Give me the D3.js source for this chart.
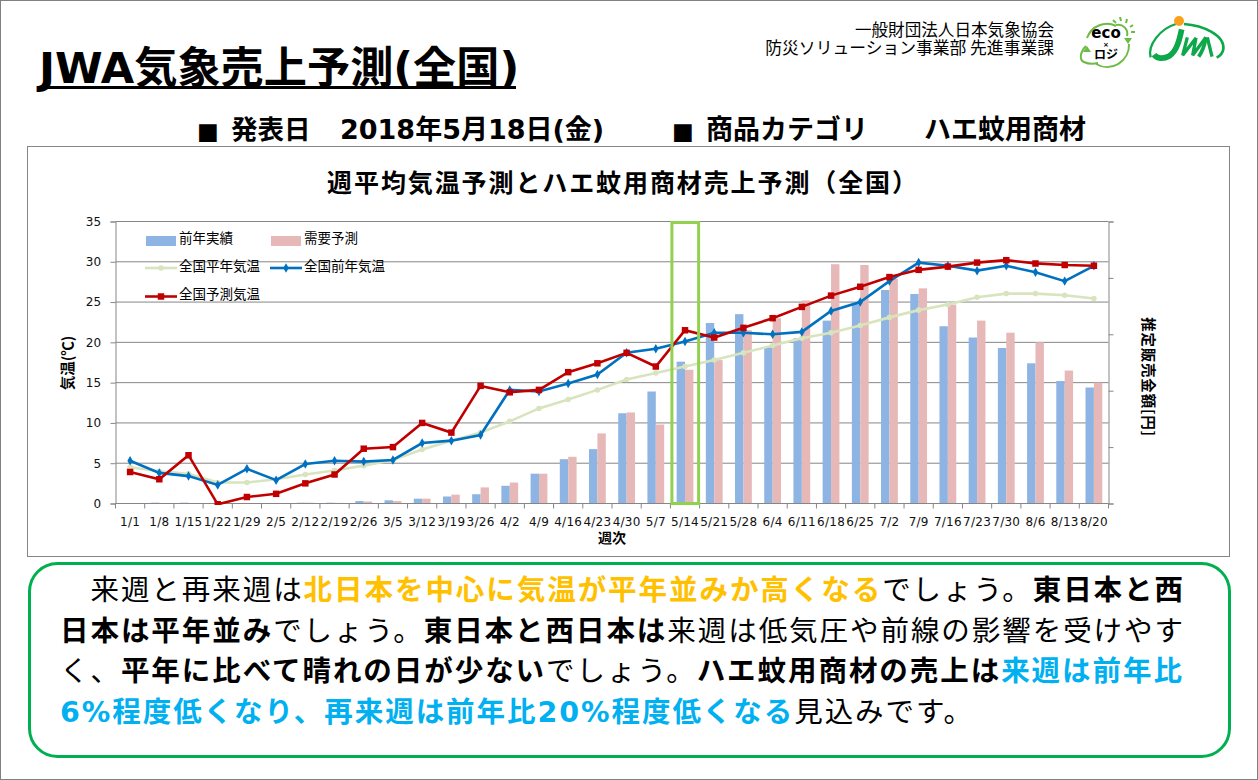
<!DOCTYPE html>
<html lang="ja">
<head>
<meta charset="utf-8">
<script src="https://cdn.jsdelivr.net/npm/d3@7"></script>
<style>
  html, body { margin: 0; padding: 0; background: #fff; overflow: hidden; }
  text { font-family: "DejaVu Sans", "Noto Sans CJK JP", sans-serif; fill: #000; }
  .cjk { font-family: "Noto Sans CJK JP", sans-serif; }
  .tick-label { font-size: 12px; letter-spacing: 0.25px; fill: #111; }
</style>
</head>
<body>
<svg id="slide" width="1258" height="780"></svg>
<script>
const weeks = ["1/1","1/8","1/15","1/22","1/29","2/5","2/12","2/19","2/26","3/5","3/12","3/19","3/26","4/2","4/9","4/16","4/23","4/30","5/7","5/14","5/21","5/28","6/4","6/11","6/18","6/25","7/2","7/9","7/16","7/23","7/30","8/6","8/13","8/20"];
const lastYearSales = [0.05,0.1,0.1,0.05,0.05,0.05,0.1,0.1,0.3,0.4,0.6,0.87,1.15,2.2,3.7,5.5,6.75,11.2,13.9,17.6,22.4,23.5,19.4,20.5,22.7,24.8,26.5,26,22,20.6,19.3,17.4,15.2,14.4];
const forecastSales = [0.03,0.05,0.05,0.03,0.03,0.03,0.1,0.08,0.25,0.3,0.6,1.1,2,2.6,3.7,5.8,8.7,11.3,9.8,16.6,17.8,21.5,23,25.2,29.7,29.6,27.9,26.7,24.7,22.7,21.2,20,16.5,15];
const normalTemp = [4.5,4,3.7,2.6,2.6,3,3.6,4.1,4.7,5.4,6.7,7.8,8.8,10.2,11.8,12.9,14.1,15.4,16.2,17,17.8,18.7,19.6,20.5,21.2,22.1,23.1,24,24.7,25.6,26.05,26.05,25.85,25.45];
const lastYearTemp = [5.3,3.8,3.4,2.3,4.3,2.9,4.9,5.3,5.2,5.4,7.5,7.8,8.5,14.1,13.9,14.9,16,18.7,19.2,20.1,21.2,21.2,21,21.3,23.9,25,27.6,29.9,29.5,28.9,29.5,28.7,27.6,29.5];
const forecastTemp = [3.9,3,6,-0.1,0.8,1.2,2.5,3.6,6.8,7,10,8.8,14.6,13.8,14.1,16.3,17.4,18.7,17,21.5,20.6,21.8,23,24.4,25.8,26.9,28.1,29,29.4,29.9,30.2,29.8,29.6,29.5];
const tempTicks = [0,5,10,15,20,25,30,35];
const salesTicks = [0,7,14,21,28,35]; // right axis has no printed numbers
const highlightWeek = "5/14";

const BLUE_BAR = "#8EB4E3", PINK_BAR = "#E6B9B8";
const NORMAL_LINE = "#D7E4BD", LASTYEAR_LINE = "#0070C0", FORECAST_LINE = "#C00000";
const GRID = "#868686";

const svg = d3.select("#slide");

// page frame
svg.append("rect").attr("x", 0.5).attr("y", 0.5).attr("width", 1257).attr("height", 779)
    .attr("fill", "#fff").attr("stroke", "#808080");

// header
svg.append("text").attr("x", 39).attr("y", 83).attr("font-size", 43.2).attr("font-weight", 700).text("JWA気象売上予測(全国)");
svg.append("rect").attr("x", 38).attr("y", 86).attr("width", 478).attr("height", 3);

svg.append("text").attr("class", "cjk").attr("x", 1054).attr("y", 36).attr("text-anchor", "end").attr("font-size", 16.6).text("一般財団法人日本気象協会");
svg.append("text").attr("class", "cjk").attr("x", 1054).attr("y", 53.5).attr("text-anchor", "end").attr("font-size", 16.8).text("防災ソリューション事業部 先進事業課");

const subHeads = [[197, "■", 23], [231, "発表日", 26.5], [340, "2018年5月18日(金)", 27], [672, "■", 23], [706, "商品カテゴリ", 27], [924, "ハエ蚊用商材", 27]];
svg.selectAll(".subhead").data(subHeads).enter().append("text")
    .attr("class", "subhead")
    .attr("x", d => d[0]).attr("y", 139)
    .attr("font-size", d => d[2]).attr("font-weight", 700)
    .text(d => d[1]);

drawLogos();

// chart frame
svg.append("rect").attr("x", 27.5).attr("y", 146.5).attr("width", 1202).attr("height", 410)
    .attr("fill", "#fff").attr("stroke", "#868686");
svg.append("text").attr("class", "cjk").attr("x", 623).attr("y", 192).attr("text-anchor", "middle")
    .attr("font-size", 25).attr("font-weight", 700).attr("letter-spacing", 1.9)
    .text("週平均気温予測とハエ蚊用商材売上予測（全国）");

const plot = { left: 115.5, right: 1108.5, top: 221.5, bottom: 503.5 };

const x = d3.scaleBand().domain(weeks).range([plot.left, plot.right]);
const xBar = d3.scaleBand().domain(["lastYear", "forecast"]).range([0, 16.8]);
const barOffset = (x.bandwidth() - 16.8) / 2;
const yTemp = d3.scaleLinear().domain([0, 35]).range([plot.bottom, plot.top]);
const ySales = d3.scaleLinear().domain([0, 35]).range([plot.bottom, plot.top]);

// grid
svg.append("g").selectAll("line").data(tempTicks.slice(1)).enter().append("line")
    .attr("x1", plot.left).attr("x2", plot.right)
    .attr("y1", d => yTemp(d)).attr("y2", d => yTemp(d))
    .attr("stroke", GRID).attr("stroke-width", 1);

// bars
function drawBars(values, key, color) {
    svg.append("g").selectAll("rect").data(values).enter().append("rect")
        .attr("x", (d, i) => x(weeks[i]) + barOffset + xBar(key))
        .attr("y", d => ySales(d))
        .attr("width", xBar.bandwidth())
        .attr("height", d => plot.bottom - ySales(d))
        .attr("fill", color);
}
drawBars(lastYearSales, "lastYear", BLUE_BAR);
drawBars(forecastSales, "forecast", PINK_BAR);

// axes
const xAxisG = svg.append("g").attr("transform", `translate(0,${plot.bottom})`);
xAxisG.append("line").attr("x1", plot.left).attr("x2", plot.right).attr("stroke", GRID);
xAxisG.selectAll(".wk-tick").data(weeks.concat("end")).enter().append("line")
    .attr("class", "wk-tick")
    .attr("x1", (d, i) => plot.left + i * x.step()).attr("x2", (d, i) => plot.left + i * x.step())
    .attr("y1", 0).attr("y2", 5).attr("stroke", GRID);
xAxisG.selectAll(".tick-label").data(weeks).enter().append("text")
    .attr("class", "tick-label")
    .attr("x", d => x(d) + x.bandwidth() / 2).attr("y", 22)
    .attr("text-anchor", "middle")
    .text(d => d);

const leftAxis = d3.axisLeft(yTemp).tickValues(tempTicks).tickSize(5).tickPadding(9);
const leftG = svg.append("g").attr("transform", `translate(${plot.left},0)`).call(leftAxis);
leftG.selectAll("line").attr("stroke", GRID);
leftG.select(".domain").attr("stroke", GRID);
leftG.attr("font-size", null).attr("font-family", null);
leftG.selectAll("text").attr("class", "tick-label");

const rightAxis = d3.axisRight(ySales).tickValues(salesTicks).tickSize(5).tickFormat("");
const rightG = svg.append("g").attr("transform", `translate(${plot.right},0)`).call(rightAxis);
rightG.selectAll("line").attr("stroke", GRID);
rightG.select(".domain").attr("stroke", GRID);

svg.append("text").attr("text-anchor", "middle").attr("font-size", 14.5).attr("font-weight", 700)
    .attr("class", "cjk")
    .attr("transform", "translate(73,363) rotate(-90)").text("気温(℃)");
svg.append("text").attr("text-anchor", "middle").attr("font-size", 14.5).attr("font-weight", 700)
    .attr("class", "cjk").attr("letter-spacing", 0.8)
    .attr("transform", "translate(1143,377) rotate(90)").text("推定販売金額[円]");
svg.append("text").attr("class", "cjk").attr("x", 612).attr("y", 543).attr("text-anchor", "middle")
    .attr("font-size", 14).attr("font-weight", 700).text("週次");

// lines, the forecast dips under zero and is cut at the axis
svg.append("clipPath").attr("id", "plot-clip").append("rect")
    .attr("x", plot.left).attr("y", plot.top).attr("width", plot.right - plot.left).attr("height", plot.bottom - plot.top + 1.5);
const linesG = svg.append("g").attr("clip-path", "url(#plot-clip)");
const line = d3.line().x((d, i) => x(weeks[i]) + x.bandwidth() / 2).y(d => yTemp(d));

function drawSeries(values, color, symbolType, symbolSize) {
    linesG.append("path").datum(values).attr("d", line)
        .attr("fill", "none").attr("stroke", color).attr("stroke-width", 2.6);
    linesG.append("g").selectAll("path").data(values).enter().append("path")
        .attr("d", d3.symbol().type(symbolType).size(symbolSize))
        .attr("transform", (d, i) => `translate(${x(weeks[i]) + x.bandwidth() / 2},${yTemp(d)})`)
        .attr("fill", color);
}
drawSeries(normalTemp, NORMAL_LINE, d3.symbolCircle, 24);
drawSeries(lastYearTemp, LASTYEAR_LINE, d3.symbolDiamond, 26);
drawSeries(forecastTemp, FORECAST_LINE, d3.symbolSquare, 42);

// current week highlight
svg.append("rect")
    .attr("x", x(highlightWeek) + 1.5).attr("y", plot.top + 1)
    .attr("width", x.bandwidth() - 2.5).attr("height", plot.bottom - plot.top - 1)
    .attr("fill", "none").attr("stroke", "#92D050").attr("stroke-width", 3);

// legend
const legendBars = [[146, "前年実績", BLUE_BAR], [271, "需要予測", PINK_BAR]];
legendBars.forEach(d => {
    svg.append("rect").attr("x", d[0]).attr("y", 236).attr("width", 30).attr("height", 10).attr("fill", d[2]);
    svg.append("text").attr("class", "cjk").attr("x", d[0] + 33).attr("y", 243).attr("font-size", 13.5).attr("fill", "#222").text(d[1]);
});
const legendLines = [[145, 268, "全国平年気温", NORMAL_LINE, d3.symbolCircle, 24], [270, 268, "全国前年気温", LASTYEAR_LINE, d3.symbolDiamond, 26], [145, 296.5, "全国予測気温", FORECAST_LINE, d3.symbolSquare, 42]];
legendLines.forEach(d => {
    svg.append("line").attr("x1", d[0]).attr("x2", d[0] + 32).attr("y1", d[1]).attr("y2", d[1])
        .attr("stroke", d[3]).attr("stroke-width", 2.6);
    svg.append("path").attr("d", d3.symbol().type(d[4]).size(d[5]))
        .attr("transform", `translate(${d[0] + 16},${d[1]})`).attr("fill", d[3]);
    svg.append("text").attr("class", "cjk").attr("x", d[0] + 34).attr("y", d[1] + 2.5).attr("font-size", 13.5).attr("fill", "#222").text(d[2]);
});

// comment box
svg.append("rect").attr("x", 29.5).attr("y", 563.5).attr("width", 1200).attr("height", 193).attr("rx", 28)
    .attr("fill", "#fff").attr("stroke", "#00B050").attr("stroke-width", 3);

const ORANGE = "#FFC000", SKY = "#00B0F0", BLACK = "#000";
const commentLines = [
    [["　来週と再来週は", 400, BLACK], ["北日本を中心に気温が平年並みか高くなる", 700, ORANGE], ["でしょう。", 400, BLACK], ["東日本と西", 700, BLACK]],
    [["日本は平年並み", 700, BLACK], ["でしょう。", 400, BLACK], ["東日本と西日本は", 700, BLACK], ["来週は低気圧や前線の影響を受けやす", 400, BLACK]],
    [["く、", 400, BLACK], ["平年に比べて晴れの日が少ない", 700, BLACK], ["でしょう。", 400, BLACK], ["ハエ蚊用商材の売上は", 700, BLACK], ["来週は前年比", 700, SKY]],
    [["6%程度低くなり、再来週は前年比20%程度低くなる", 700, SKY], ["見込みです。", 400, BLACK]]
];
commentLines.forEach((segs, i) => {
    const t = svg.append("text").attr("x", 60).attr("y", 600 + i * 40.6)
        .attr("font-size", 28.5).attr("letter-spacing", 1.95).attr("xml:space", "preserve");
    segs.forEach(s => t.append("tspan").attr("font-weight", s[1]).style("fill", s[2]).text(s[0]));
});

function drawLogos() {
    const g = svg.append("g");
    // eco x logi mark
    const eco = g.append("g").attr("fill", "none").attr("stroke", "#6DBB45").attr("stroke-width", 2);
    eco.append("path").attr("d", "M1116 26 A21 21 0 0 0 1087 38");
    eco.append("path").attr("d", "M1129 44 A22 22 0 0 1 1096 64");
    eco.append("path").attr("d", "M1086 46 C1080 52 1079 60 1084 62 C1088 64 1094 64 1098 63");
    eco.append("path").attr("d", "M1116 25 A9 9 0 0 1 1127 36");
    ["M1120 17 L1121 21", "M1127 19 L1126 23", "M1133 25 L1130 27", "M1135 32 L1131 32", "M1113 20 L1116 23"]
        .forEach(p => eco.append("path").attr("d", p));
    g.append("path").attr("d", "M1124 38 L1132 38 L1128 44 Z").attr("fill", "#6DBB45");
    g.append("path").attr("d", "M1083 52 L1091 52 L1087 46 Z").attr("fill", "#6DBB45");
    g.append("text").attr("x", 1106).attr("y", 38).attr("text-anchor", "middle").attr("font-size", 15).attr("font-weight", 700).text("eco");
    g.append("text").attr("x", 1106).attr("y", 46.5).attr("text-anchor", "middle").attr("font-size", 7).attr("font-weight", 700).text("×");
    g.append("text").attr("class", "cjk").attr("x", 1106).attr("y", 59).attr("text-anchor", "middle").attr("font-size", 12).attr("font-weight", 700).text("ロジ");
    // JWA mark, drawn in its own 270x162 box
    const jwa = g.append("g").attr("transform", "translate(1140,12) scale(0.3333)")
        .attr("fill", "none").attr("stroke", "#0DA84A");
    jwa.append("path").attr("stroke-width", 7).attr("d", "M32 136 C22 100 60 50 108 36");
    jwa.append("path").attr("stroke-width", 8).attr("d", "M132 36 C190 40 255 70 250 112 C248 124 240 132 230 137");
    jwa.append("path").attr("stroke-width", 17).attr("d", "M125 52 C118 85 110 118 88 132 C70 142 50 140 42 128");
    jwa.append("path").attr("stroke-width", 10).attr("d", "M142 76 L128 130 L168 78 L158 130 L198 76");
    jwa.append("path").attr("stroke-width", 11).attr("d", "M198 76 C194 100 186 120 176 134");
    jwa.append("path").attr("stroke-width", 10).attr("d", "M202 76 L216 134");
    g.append("circle").attr("cx", 1179).attr("cy", 21).attr("r", 5).attr("fill", "#F9A11B");
}
</script>
</body>
</html>
